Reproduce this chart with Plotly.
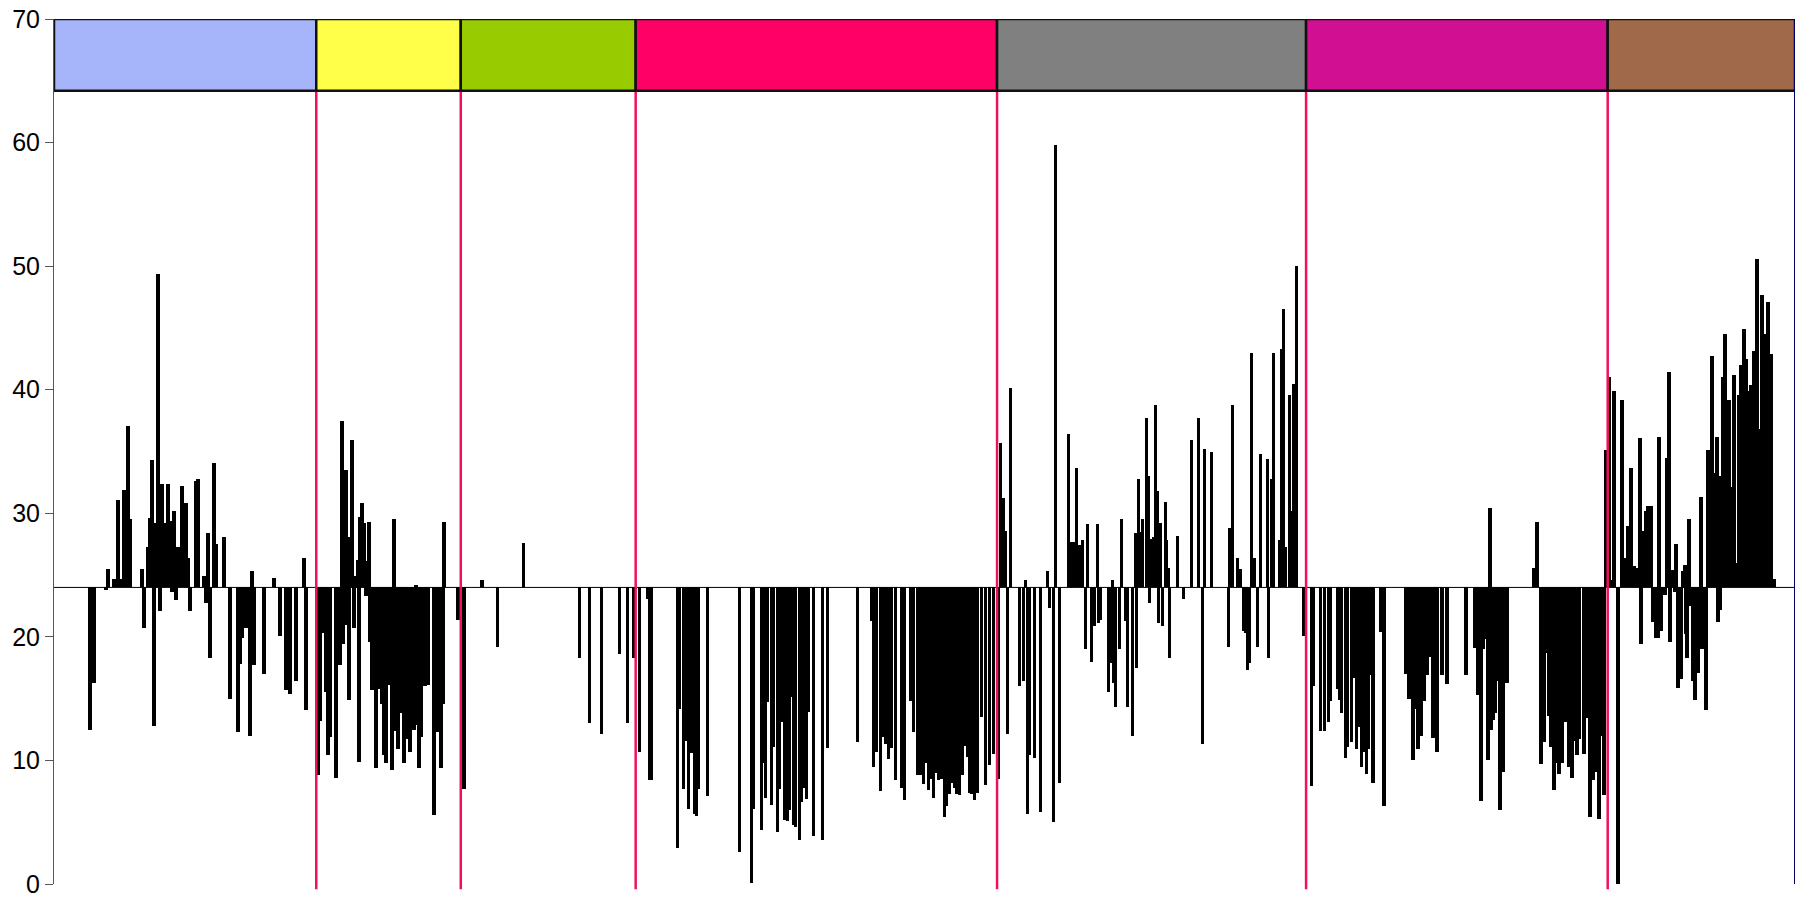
import plotly.graph_objects as go

# ---------------- data ----------------
BASELINE = 24

# segment 1 (blue)
pos1 = [18, 20, 26, 27, 30, 32, 34, 35, 37, 38, 44, 45, 47, 48, 49, 50, 51, 52, 53, 54,
        55, 57, 58, 59, 60, 61, 62, 63, 64, 66, 67, 68, 71, 72, 75, 76, 77, 78, 80, 81,
        85, 88, 92, 93, 94, 96, 98, 99, 100, 105, 110, 113, 116, 118, 121, 125, 126]
val1 = [12.5, 16.3, 23.8, 25.5, 24.7, 31.1, 24.7, 31.9, 37.1, 29.5, 25.5, 20.7, 27.3, 29.6, 34.3, 12.8, 29.2, 49.4, 22.1, 32.4,
        29.2, 32.4, 29.4, 23.6, 30.2, 23.0, 27.3, 25.3, 32.2, 30.8, 26.4, 22.1, 32.6, 32.8, 24.9, 22.7, 28.4, 18.3, 34.1, 27.5,
        28.1, 15.0, 12.3, 17.8, 19.9, 20.7, 12.0, 25.3, 17.7, 17.0, 24.8, 20.1, 15.7, 15.4, 16.4, 26.4, 14.1]

# segment 2 (yellow)
pos2 = [132, 133, 135, 136, 137, 138, 141, 142, 143, 144, 144.5, 146, 146.5, 147.5, 148, 149, 150, 151, 152, 152.5,
        153, 154, 155, 156, 156.5, 157.5, 158, 159, 160, 161, 162.5, 164, 165, 166, 167, 169, 170, 170.5, 172, 173,
        175, 176, 178, 180, 181, 181.5, 182.5, 183.5, 184.5, 185.5, 187, 190, 190.5, 192, 193.5, 194.5, 195, 202]
val2 = [8.8, 13.2, 20.3, 15.5, 10.4, 11.9, 8.6, 18.4, 17.7, 37.5, 19.4, 33.5, 21.0, 14.9, 28.1, 35.9, 20.7, 24.9, 26.2, 9.9,
        29.7, 30.8, 29.2, 23.3, 26.1, 29.3, 19.6, 15.7, 15.7, 9.4, 15.8, 14.6, 10.4, 9.8, 16.1, 9.2, 29.5, 12.4, 10.9, 13.8,
        9.8, 11.7, 10.7, 12.5, 24.2, 12.9, 9.4, 11.9, 16.3, 16.0, 16.1, 5.6, 12.6, 12.3, 9.4, 14.6, 29.3, 21.4]

# segment 3 (green)
pos3 = [205, 214, 222, 235, 263, 268, 274, 283, 287, 290]
val3 = [7.7, 24.6, 19.2, 27.6, 18.3, 13.0, 12.1, 18.6, 13.0, 18.3]

# segment 4 (red)
pos4 = [293, 297, 298, 299, 312, 313, 315, 316, 317.5, 319, 320.5, 321.5, 322.5, 327, 343, 349, 350, 354, 355, 356,
        357, 359, 360, 362, 363, 364, 365.5, 367, 368, 369, 370, 371, 373, 374, 375.5, 376.5, 377.5, 380, 384.5, 387,
        402, 409, 410, 411.5, 413.5, 415, 416, 417.5, 419, 421, 424, 425.5, 428.5, 430, 432, 433.5, 435, 436.5, 437.5, 439,
        440, 441.5, 442.5, 444, 445.5, 446.5, 448, 449, 450.5, 451.5, 453, 454.5, 455.5, 457, 458, 459, 460.5, 462, 464, 466,
        468, 470]
val4 = [10.7, 23.1, 8.4, 8.4, 2.9, 14.2, 7.7, 11.6, 6.1, 10.6, 5.7, 5.5, 7.7, 7.1, 2.6, 0.1, 6.1, 4.4, 9.8, 7.0,
        14.7, 6.4, 11.1, 4.2, 7.7, 13.1, 5.2, 5.1, 6.0, 15.1, 4.8, 4.6, 3.6, 6.6, 7.8, 6.9, 13.9, 3.9, 3.6, 11.0,
        11.5, 21.3, 9.5, 10.7, 7.5, 11.9, 11.3, 10.1, 11.0, 8.4, 7.8, 6.8, 14.8, 12.3, 8.8, 8.8, 8.1, 9.8, 7.6, 8.5,
        7.0, 9.0, 8.4, 8.5, 5.4, 6.3, 7.3, 8.2, 7.8, 7.3, 7.2, 8.8, 11.2, 10.3, 7.4, 7.3, 6.8, 7.4, 13.5, 8.0,
        9.6, 10.5]

# segment 5 (grey)
pos5 = [472.5, 473.5, 475, 476, 477, 478.5, 483, 485, 486, 487, 488, 490.5, 493.5, 497, 498, 500, 501, 503, 507.5, 509,
        510, 511.5, 513, 514.5, 516, 517, 519, 520.5, 522, 522.5, 523.5, 527.5, 528.5, 529.5, 530, 531, 533, 534, 536, 537,
        539.5, 541, 541.5, 542.5, 543.5, 544.5, 546.5, 547.5, 548, 549, 550, 551, 552, 552.5, 553.5, 554.5, 556, 556.5, 557.5, 558,
        562, 565, 569, 572.5, 574.5, 575.5, 579, 587.5, 588, 589.5, 592, 593.5, 595, 596, 597, 598, 599, 600.5, 602, 603.5,
        607, 607.5, 609, 610, 613, 614, 615, 616, 618, 619, 620, 621.5, 625]
val5 = [8.5, 35.7, 31.2, 28.6, 12.1, 40.1, 16.0, 16.4, 24.6, 5.7, 10.4, 10.2, 5.8, 25.3, 22.3, 5.0, 59.8, 8.2, 36.4, 27.7,
        27.7, 33.7, 27.4, 27.8, 19.0, 29.1, 18.0, 20.9, 29.1, 21.1, 21.4, 15.5, 17.9, 24.6, 16.3, 14.3, 19.0, 29.5, 21.3, 14.3,
        12.0, 28.4, 17.5, 32.8, 28.5, 29.5, 37.7, 33.0, 22.7, 27.9, 28.1, 38.8, 31.8, 21.1, 29.2, 20.9, 30.9, 27.8, 25.6, 18.3,
        28.2, 23.1, 35.9, 37.7, 11.3, 35.2, 35.0, 19.2, 28.8, 38.8, 26.4, 25.5, 20.5, 20.3, 17.3, 17.9, 43.0, 26.4, 19.2, 34.8,
        34.4, 18.3, 32.8, 43.0, 27.8, 43.3, 46.5, 27.3, 39.6, 30.2, 40.5, 50.0, 20.1]

# segment 6 (magenta)
pos6 = [629, 630, 633.5, 635.5, 637.5, 638.5, 642, 643, 644, 646, 647, 649, 650, 651.5, 652.5, 654, 655.5, 656.5, 657.5, 658.5,
        660, 664, 665.5, 676.5, 678, 680, 681, 682.5, 684, 685.5, 687, 688, 690, 691, 692, 694.5, 697, 706.5, 711, 712,
        712.5, 714, 715, 716.5, 717.5, 718.5, 719, 720, 721, 722.5, 723.5, 725, 725.5, 727, 740.5, 742, 744, 745.5, 746.5, 748,
        749, 750.5, 752, 753, 754.5, 756, 757, 758, 759.5, 761, 762, 763, 765.5, 767, 768.5, 770, 771.5, 773, 774, 775.5]
val6 = [7.9, 16.0, 12.4, 12.4, 13.1, 14.8, 15.8, 14.9, 13.8, 10.2, 11.1, 11.5, 16.7, 10.9, 12.7, 9.5, 10.7, 8.9, 10.9, 16.9,
        8.2, 20.4, 6.3, 17.0, 15.0, 10.0, 14.2, 10.9, 12.0, 14.8, 16.9, 18.4, 11.8, 14.5, 10.7, 16.9, 16.2, 16.9, 19.1, 19.8,
        15.3, 6.7, 19.0, 19.8, 10.0, 30.4, 12.5, 13.3, 13.8, 16.4, 6.0, 9.1, 18.7, 16.3, 25.6, 29.3, 9.7, 11.5, 18.7, 13.6,
        11.1, 7.6, 9.8, 8.9, 9.8, 13.1, 15.5, 9.5, 8.6, 11.6, 10.4, 11.7, 10.5, 13.4, 5.4, 8.4, 9.1, 5.3, 12.0, 7.2]

# segment 7 (brown)
pos7 = [776.5, 778, 779, 780.5, 782.5, 784.5, 785.5, 787.5, 789, 790.5, 791.5, 792.5, 793.5, 794, 795, 796.5, 797.5, 799, 800, 801.5,
        802.5, 803, 804, 806, 807, 808, 808.5, 809.5, 811, 811.5, 812.5, 814, 815, 816, 816.5, 817, 818, 819, 820, 821,
        822.5, 824, 824.5, 826.5, 827.5, 829.5, 831, 832, 832.5, 833.5, 834, 835, 836, 837, 838, 839, 840.5, 841.5, 843, 844,
        845.5, 846.5, 848, 849, 850.5, 852, 853.5, 854.5, 856, 857, 857.5, 859, 860.5]
val7 = [35.1, 41.0, 24.6, 39.9, 0.0, 39.2, 26.4, 29.0, 33.7, 25.7, 25.6, 24.9, 36.1, 19.4, 28.6, 30.2, 30.6, 30.6, 21.2, 19.9,
        19.9, 36.2, 20.5, 23.4, 34.5, 41.4, 19.6, 25.4, 23.6, 27.5, 15.9, 16.6, 25.3, 25.8, 20.2, 18.3, 29.5, 22.5, 16.4, 14.9,
        17.1, 31.3, 19.0, 14.1, 35.1, 42.7, 33.3, 36.2, 21.2, 22.2, 33.0, 41.0, 44.5, 26.7, 39.2, 32.1, 41.2, 26.0, 39.6, 42.0,
        44.9, 42.5, 39.9, 40.4, 43.1, 50.6, 36.8, 47.7, 44.5, 42.6, 47.1, 42.9, 24.7]

# segment boundaries (x units) and colours of the header blocks
seg_edges = [0, 131.2, 203.5, 291.0, 471.8, 626.4, 777.3, 871]
seg_colors = ["#A6B4FA", "#FFFF4A", "#99CC00", "#FF0066", "#808080", "#D10F92", "#A0694A"]
X_MAX = 871
Y_TICKS = [0, 10, 20, 30, 40, 50, 60, 70]

# ---------------- figure ----------------
positions = pos1 + pos2 + pos3 + pos4 + pos5 + pos6 + pos7
values = val1 + val2 + val3 + val4 + val5 + val6 + val7

fig = go.Figure()
fig.add_trace(go.Bar(
    x=positions,
    y=[v - BASELINE for v in values],
    base=BASELINE,
    width=1.75,
    marker=dict(color="#000000", line=dict(width=0)),
    hoverinfo="skip",
    showlegend=False,
))

shapes = []
# baseline
shapes.append(dict(type="line", xref="x", yref="y", x0=0, x1=X_MAX, y0=BASELINE, y1=BASELINE,
                   line=dict(color="#000000", width=1), layer="above"))
# separator lines
for e in seg_edges[1:-1]:
    shapes.append(dict(type="line", xref="x", yref="paper", x0=e, x1=e, y0=-0.006, y1=0.92,
                       line=dict(color="#F0105F", width=2.5), layer="above"))
# header blocks
for i, c in enumerate(seg_colors):
    shapes.append(dict(type="rect", xref="x", yref="y", x0=seg_edges[i], x1=seg_edges[i + 1],
                       y0=64.2, y1=70, fillcolor=c, line=dict(color="#111111", width=2.5), layer="above"))
# right border
shapes.append(dict(type="line", xref="x", yref="paper", x0=X_MAX, x1=X_MAX, y0=0, y1=1,
                   line=dict(color="#000066", width=2), layer="above"))

fig.update_layout(
    width=1797, height=902,
    margin=dict(l=54, r=2, t=19, b=18),
    paper_bgcolor="white", plot_bgcolor="white",
    barmode="overlay",
    bargap=0,
    shapes=shapes,
    xaxis=dict(range=[0, X_MAX], visible=False, showgrid=False, zeroline=False),
    yaxis=dict(range=[0, 70], tickvals=Y_TICKS, ticktext=[str(t) for t in Y_TICKS],
               showline=True, linecolor="#555555", linewidth=1,
               ticks="outside", ticklen=8, tickcolor="#555555",
               tickfont=dict(family="Liberation Sans, Arial", size=25, color="#000000"),
               showgrid=False, zeroline=False),
    font=dict(family="Liberation Sans, Arial"),
)

fig.write_html("out.html")
